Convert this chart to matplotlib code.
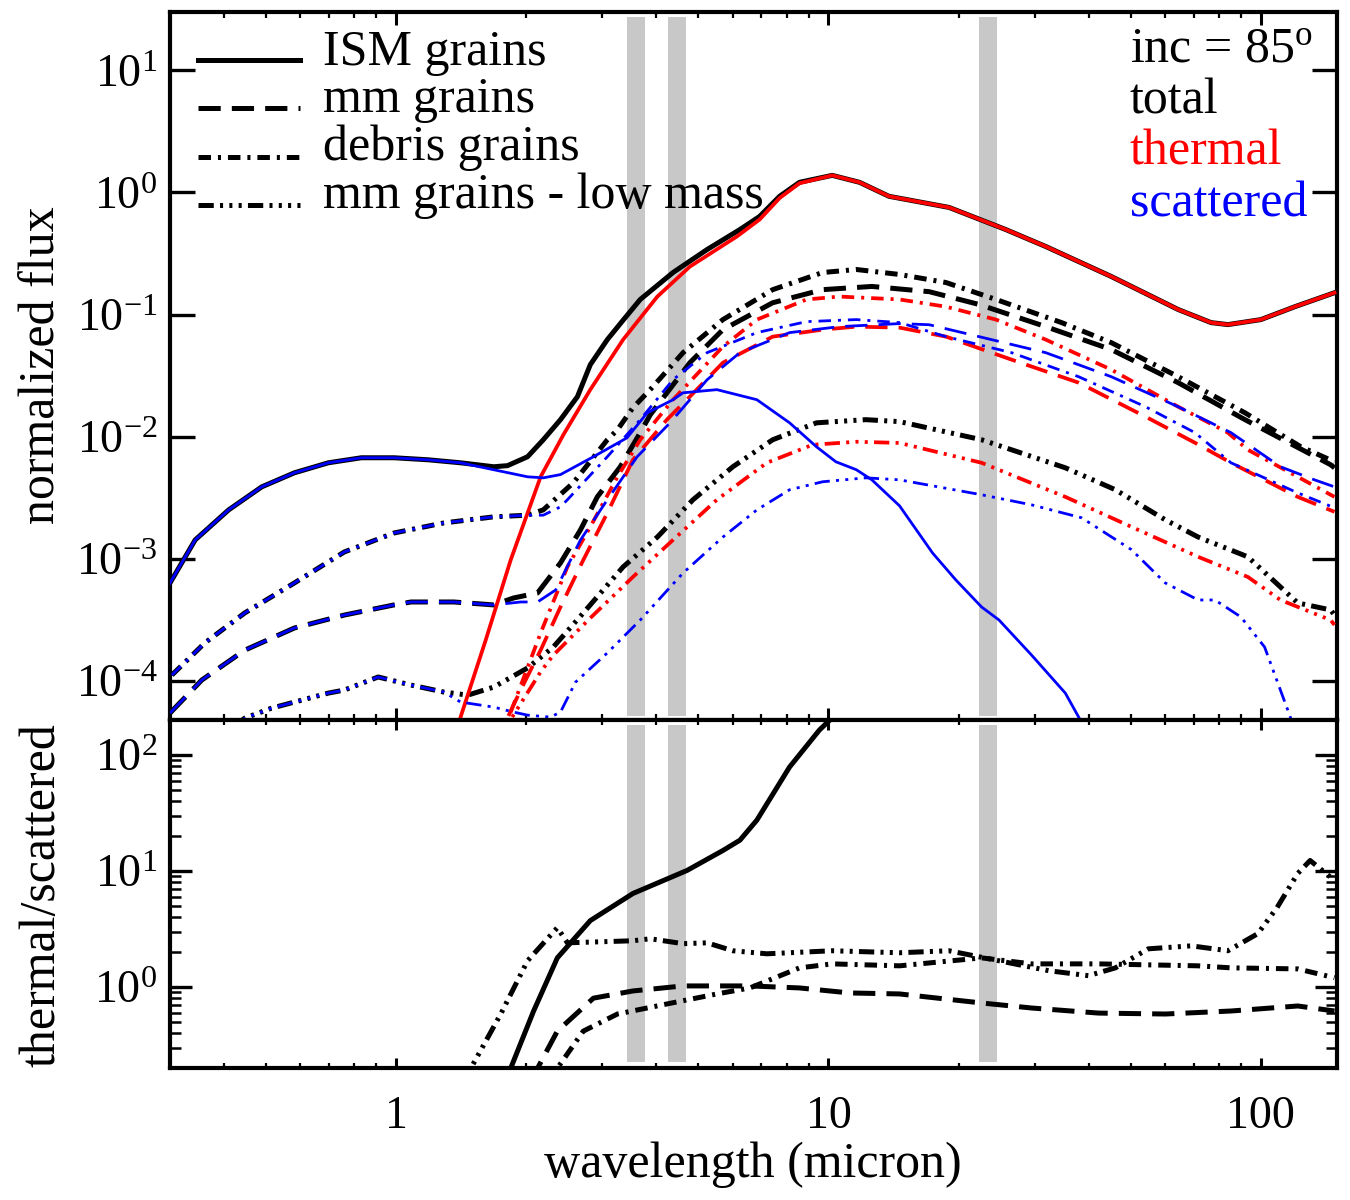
import matplotlib
matplotlib.use('Agg')
import matplotlib.pyplot as plt
from matplotlib.lines import Line2D
from matplotlib.ticker import LogLocator, NullLocator, NullFormatter, FixedLocator, FixedFormatter

plt.rcParams['font.family'] = ['Liberation Serif', 'DejaVu Serif']
plt.rcParams['mathtext.fontset'] = 'custom'
plt.rcParams['mathtext.rm'] = 'Liberation Serif'
plt.rcParams['mathtext.it'] = 'Liberation Serif:italic'
plt.rcParams['mathtext.bf'] = 'Liberation Serif:bold'
plt.rcParams['lines.scale_dashes'] = False
plt.rcParams['axes.unicode_minus'] = False

# ---------------- data (wavelength in micron) ----------------
# ISM grains
ism_tot_wl = [0.298, 0.343, 0.410, 0.489, 0.582, 0.697, 0.831, 0.989, 1.185, 1.41, 1.682, 1.81, 2.014, 2.19,
              2.40, 2.627, 2.813, 3.08, 3.35, 3.67, 4.37, 5.24, 6.24, 6.93, 7.71, 8.57, 10.2, 11.8, 13.8, 19.0,
              21.5, 25.7, 31.8, 45.1, 64.4, 76.7, 83.9, 100, 119.8, 148]
ism_tot = [6.1e-4, 1.43e-3, 2.52e-3, 3.89e-3, 5.07e-3, 6.12e-3, 6.73e-3, 6.73e-3, 6.48e-3, 6.12e-3, 5.68e-3,
           5.8e-3, 6.86e-3, 9.45e-3, 0.0138, 0.0213, 0.0389, 0.0624, 0.09, 0.133, 0.221, 0.341, 0.497, 0.636,
           0.93, 1.21, 1.38, 1.21, 0.93, 0.754, 0.636, 0.497, 0.361, 0.205, 0.11, 0.086, 0.0828, 0.091, 0.116,
           0.151]
ism_th_wl = [1.339, 1.612, 1.841, 2.159, 2.438, 2.813, 3.35, 4.02, 4.78, 6.14, 6.93, 7.71, 8.57, 10.2, 11.8,
             13.8, 19.0, 21.5, 25.7, 31.8, 45.1, 64.4, 76.7, 83.9, 100, 119.8, 148]
ism_th = [2.9e-5, 2.17e-4, 9.8e-4, 4.7e-3, 0.0104, 0.0243, 0.0624, 0.1405, 0.247, 0.436, 0.60, 0.90, 1.19,
          1.38, 1.21, 0.93, 0.754, 0.636, 0.497, 0.361, 0.205, 0.11, 0.086, 0.0828, 0.091, 0.116, 0.151]
ism_sc_wl = [0.298, 0.343, 0.410, 0.489, 0.582, 0.697, 0.831, 0.989, 1.185, 1.41, 1.682, 2.014, 2.19, 2.40,
             2.86, 3.42, 3.81, 4.37, 4.61, 5.52, 6.83, 8.13, 9.38, 10.4, 11.6, 12.6, 14.6, 17.4, 19.7, 22.6,
             24.8, 29.5, 35.3, 37.9, 39.9]
ism_sc = [6.1e-4, 1.43e-3, 2.52e-3, 3.89e-3, 5.07e-3, 6.12e-3, 6.73e-3, 6.73e-3, 6.48e-3, 6.12e-3, 5.37e-3,
          4.7e-3, 4.61e-3, 4.9e-3, 6.86e-3, 9.8e-3, 0.0157, 0.0201, 0.0229, 0.0243, 0.0201, 0.0130, 8.28e-3,
          6.24e-3, 5.37e-3, 4.44e-3, 2.72e-3, 1.12e-3, 6.73e-4, 4.04e-4, 3.16e-4, 1.63e-4, 7.97e-5, 5.07e-5, 3.6e-5]

# mm grains
mm_tot_wl = [0.300, 0.3554, 0.4466, 0.582, 0.759, 0.989, 1.083, 1.36, 1.682, 1.87, 2.124, 2.40, 2.67, 2.92,
             3.30, 3.67, 3.87, 4.78, 5.70, 7.43, 9.69, 12.6, 17.1, 22.3, 31.8, 45.1, 64.4, 91.9, 145, 148]
mm_tot = [5.47e-5, 1.02e-4, 1.79e-4, 2.72e-4, 3.47e-4, 4.2e-4, 4.44e-4, 4.44e-4, 4.2e-4, 4.79e-4, 5.26e-4,
          9.27e-4, 1.73e-3, 3.22e-3, 5.68e-3, 0.0108, 0.0151, 0.0404, 0.0753, 0.125, 0.160, 0.170, 0.154,
          0.121, 0.0797, 0.0517, 0.0277, 0.0138, 5.9e-3, 5.57e-3]
mm_th_wl = [1.70, 1.81, 1.941, 2.159, 2.40, 2.71, 3.08, 3.53, 4.23, 4.78, 5.70, 7.43, 9.69, 11.6, 14.6, 18.7,
            26.5, 37.9, 54.1, 70.4, 85.3, 121.7, 148]
mm_th = [2.9e-5, 5.0e-5, 8.44e-5, 1.79e-4, 4.04e-4, 9.8e-4, 2.38e-3, 6.48e-3, 0.0138, 0.0213, 0.0404, 0.0660,
         0.0753, 0.0797, 0.0782, 0.066, 0.0428, 0.0277, 0.0146, 8.93e-3, 6.12e-3, 3.22e-3, 2.43e-3]
mm_sc_wl = [0.300, 0.3554, 0.4466, 0.582, 0.759, 0.989, 1.083, 1.36, 1.682, 1.941, 2.124, 2.34, 2.67, 3.08,
            3.61, 4.30, 5.24, 6.24, 8.13, 10.6, 14.6, 17.1, 22.3, 31.8, 45.1, 64.4, 85.3, 111, 133, 148]
mm_sc = [5.47e-5, 1.02e-4, 1.79e-4, 2.72e-4, 3.47e-4, 4.2e-4, 4.44e-4, 4.44e-4, 4.2e-4, 4.44e-4, 4.44e-4,
         5.57e-4, 1.43e-3, 3.05e-3, 6.86e-3, 0.0130, 0.0293, 0.0488, 0.0712, 0.0797, 0.0844, 0.0826, 0.066,
         0.0488, 0.031, 0.0176, 0.0108, 5.68e-3, 4.44e-3, 3.89e-3]

# debris grains
deb_tot_wl = [0.303, 0.361, 0.4466, 0.582, 0.759, 0.989, 1.29, 1.682, 2.014, 2.19, 2.57, 3.08, 3.25, 3.53,
              3.87, 4.61, 5.70, 7.43, 9.69, 11.6, 14.6, 18.7, 24.4, 34.6, 45.1, 64.4, 91.9, 123.7, 148]
deb_tot = [1.12e-4, 2.05e-4, 3.61e-4, 6.36e-4, 1.14e-3, 1.63e-3, 1.97e-3, 2.21e-3, 2.28e-3, 2.52e-3, 4.2e-3,
           9.45e-3, 0.0114, 0.0173, 0.0243, 0.0488, 0.091, 0.160, 0.221, 0.234, 0.213, 0.183, 0.133, 0.086,
           0.0589, 0.031, 0.0157, 8.28e-3, 6.24e-3]
deb_th_wl = [1.746, 1.841, 2.159, 2.49, 2.813, 3.25, 3.67, 4.37, 5.70, 6.83, 8.90, 10.6, 14.6, 18.7, 24.4,
             31.8, 45.1, 64.4, 83.9, 93.3, 121.7, 148]
deb_th = [3.3e-5, 5.57e-5, 2.47e-4, 8.6e-4, 1.83e-3, 4.7e-3, 9.45e-3, 0.0201, 0.0547, 0.091, 0.133, 0.1405,
          0.133, 0.116, 0.091, 0.0624, 0.0354, 0.0176, 0.0108, 7.82e-3, 4.7e-3, 3.22e-3]
deb_sc_wl = [0.303, 0.361, 0.4466, 0.582, 0.759, 0.989, 1.29, 1.682, 2.014, 2.19, 2.40, 2.49, 3.08, 3.67,
             4.37, 5.24, 6.83, 8.90, 11.6, 14.6, 18.7, 26.5, 37.9, 54.1, 70.4, 85.3, 121.7, 148]
deb_sc = [1.12e-4, 2.05e-4, 3.61e-4, 6.36e-4, 1.14e-3, 1.63e-3, 1.97e-3, 2.21e-3, 2.28e-3, 2.28e-3, 2.67e-3,
          3.05e-3, 6.86e-3, 0.0138, 0.0293, 0.0488, 0.0712, 0.0876, 0.091, 0.086, 0.066, 0.0488, 0.031,
          0.0176, 0.0108, 6.12e-3, 3.47e-3, 2.62e-3]

# mm grains - low mass
low_tot_wl = [0.42, 0.4466, 0.515, 0.697, 0.759, 0.909, 1.083, 1.29, 1.465, 1.682, 2.014, 2.31, 2.71, 3.35,
              4.02, 4.86, 6.01, 7.43, 9.38, 12.2, 14.6, 22.6, 35.3, 46.1, 60.1, 71.6, 93.3, 111, 121.7, 145, 148]
low_tot = [4.2e-5, 4.97e-5, 6.0e-5, 7.97e-5, 8.44e-5, 1.08e-4, 9.27e-5, 8.13e-5, 7.67e-5, 8.93e-5, 1.28e-4,
           1.9e-4, 3.61e-4, 8.6e-4, 1.51e-3, 3.05e-3, 5.68e-3, 9.45e-3, 0.0130, 0.0138, 0.0133, 9.45e-3,
           5.57e-3, 3.68e-3, 2.09e-3, 1.51e-3, 1.04e-3, 5.89e-4, 4.36e-4, 3.82e-4, 3.47e-4]
low_th_wl = [1.746, 2.159, 2.31, 2.813, 3.53, 4.37, 5.52, 7.20, 9.19, 11.6, 14.6, 22.6, 35.3, 50.2, 71.6,
             93.3, 111, 145, 148]
low_th = [3.6e-5, 1.19e-4, 1.63e-4, 3.28e-4, 7.12e-4, 1.43e-3, 3.05e-3, 6.12e-3, 8.6e-3, 9.1e-3, 8.9e-3,
          6.12e-3, 3.22e-3, 1.83e-3, 1.04e-3, 7.12e-4, 4.61e-4, 3.16e-4, 2.88e-4]
low_sc_wl = [0.42, 0.4466, 0.515, 0.697, 0.759, 0.909, 1.083, 1.29, 1.41, 1.682, 1.87, 2.014, 2.276, 2.40,
             2.60, 3.08, 3.67, 4.61, 5.70, 6.83, 8.13, 9.69, 12.2, 14.6, 22.6, 29.5, 38.5, 50.2, 60.1, 71.6,
             78.3, 89.9, 102, 117, 120.5]
low_sc = [4.2e-5, 4.97e-5, 6.0e-5, 7.97e-5, 8.44e-5, 1.08e-4, 9.27e-5, 8.13e-5, 6.73e-5, 6.12e-5, 5.57e-5,
          5.26e-5, 5.07e-5, 5.57e-5, 9.8e-5, 1.70e-4, 3.16e-4, 7.67e-4, 1.51e-3, 2.52e-3, 3.68e-3, 4.28e-3,
          4.61e-3, 4.44e-3, 3.35e-3, 2.77e-3, 2.17e-3, 1.19e-3, 6.36e-4, 4.61e-4, 4.61e-4, 3.35e-4, 1.9e-4,
          5.07e-5, 3.3e-5]

# thermal / scattered ratios
ism_ratio_wl = [1.793, 1.841, 2.08, 2.36, 2.813, 3.53, 4.71, 5.70, 6.24, 6.83, 8.13, 9.53, 10.2, 10.9]
ism_ratio = [0.153, 0.199, 0.62, 1.78, 3.73, 6.39, 10.1, 15.0, 18.4, 27.4, 78.7, 164, 209, 271]
mm_ratio_wl = [2.05, 2.124, 2.36, 2.86, 3.53, 4.61, 6.58, 8.57, 11.2, 14.6, 22.6, 29.5, 42.1, 60.1, 85.3,
               121.7, 148]
mm_ratio = [0.153, 0.199, 0.416, 0.80, 0.923, 1.02, 1.02, 0.98, 0.887, 0.87, 0.727, 0.658, 0.595, 0.584,
            0.62, 0.685, 0.62]
deb_ratio_wl = [2.25, 2.36, 2.71, 3.25, 4.23, 5.52, 6.58, 8.57, 10.2, 14.6, 22.6, 29.5, 42.1, 71.6, 85.3,
                121.7, 148]
deb_ratio = [0.153, 0.199, 0.416, 0.584, 0.713, 0.87, 0.98, 1.46, 1.58, 1.52, 1.78, 1.58, 1.58, 1.52, 1.46,
             1.43, 1.2]
low_ratio_wl = [1.41, 1.489, 1.746, 2.014, 2.36, 2.49, 3.53, 3.87, 4.61, 5.24, 6.01, 7.20, 10.2, 14.6, 19.0,
                24.8, 32.3, 39.9, 46.1, 54.9, 69.0, 83.9, 98.4, 109, 121.7, 130, 148]
low_ratio = [0.153, 0.199, 0.584, 1.68, 3.24, 2.40, 2.50, 2.60, 2.36, 2.40, 2.05, 1.93, 2.05, 1.97, 2.05,
             1.68, 1.38, 1.25, 1.46, 2.13, 2.26, 2.05, 2.88, 4.83, 9.51, 12.3, 8.28]

# photometric bands (micron)
band_lo = [3.42, 4.26, 22.3]
band_hi = [3.77, 4.68, 24.5]

legend_labels = ['ISM grains', 'mm grains', 'debris grains', 'mm grains - low mass']
xtick_vals = [1, 10, 100]
xtick_labels = ['1', '10', '100']

# ---------------- styles ----------------
SOLID = '-'
DASH = (0, (16, 8))
DASHDOT = (0, (9, 5, 2.2, 5))
DDD = (0, (11, 4.5, 2.2, 4.5, 2.2, 4.5, 2.2, 4.5))
LW_K, LW_R, LW_B = 3.6, 2.7, 2.0
RED, BLUE, GREY = '#ff0000', '#0000ff', '#c8c8c8'
FS = 36
FS_TICK = 33

fig = plt.figure(figsize=(13.5, 12), dpi=100)
ax1 = fig.add_axes([170 / 1350, 480 / 1200, 1167 / 1350, 708 / 1200])
ax2 = fig.add_axes([170 / 1350, 132 / 1200, 1167 / 1350, 348 / 1200])

for ax, (y0, y1) in ((ax1, (0.006, 0.993)), (ax2, (0.017, 0.986))):
    for lo, hi in zip(band_lo, band_hi):
        ax.axvspan(lo, hi, ymin=y0, ymax=y1, color=GREY, lw=0, zorder=0)

# top panel
groups = [
    (ism_tot_wl, ism_tot, ism_th_wl, ism_th, ism_sc_wl, ism_sc, SOLID),
    (mm_tot_wl, mm_tot, mm_th_wl, mm_th, mm_sc_wl, mm_sc, DASH),
    (deb_tot_wl, deb_tot, deb_th_wl, deb_th, deb_sc_wl, deb_sc, DASHDOT),
    (low_tot_wl, low_tot, low_th_wl, low_th, low_sc_wl, low_sc, DDD),
]
for twl, tv, hwl, hv, swl, sv, ls in groups:
    ax1.plot(twl, tv, color='k', lw=LW_K, ls=ls, zorder=3)
for twl, tv, hwl, hv, swl, sv, ls in groups:
    ax1.plot(hwl, hv, color=RED, lw=LW_R, ls=ls, zorder=4)
for twl, tv, hwl, hv, swl, sv, ls in groups:
    ax1.plot(swl, sv, color=BLUE, lw=LW_B, ls=ls, zorder=5)

# bottom panel
ax2.plot(ism_ratio_wl, ism_ratio, color='k', lw=LW_K, ls=SOLID, zorder=3)
ax2.plot(mm_ratio_wl, mm_ratio, color='k', lw=LW_K, ls=DASH, zorder=3)
ax2.plot(deb_ratio_wl, deb_ratio, color='k', lw=LW_K, ls=DASHDOT, zorder=3)
ax2.plot(low_ratio_wl, low_ratio, color='k', lw=LW_K, ls=DDD, zorder=3)

for ax in (ax1, ax2):
    ax.set_xscale('log')
    ax.set_yscale('log')
    ax.set_xlim(0.3, 150)
    ax.xaxis.set_major_locator(FixedLocator(xtick_vals))
    ax.xaxis.set_minor_locator(LogLocator(base=10, subs=[2, 3, 4, 5, 6, 7, 8, 9], numticks=20))
    ax.xaxis.set_minor_formatter(NullFormatter())
    ax.tick_params(which='both', direction='in', top=True, right=True, labelsize=FS_TICK)
    for s in ax.spines.values():
        s.set_linewidth(3.0)

ax1.set_ylim(4.8e-5, 30)
ax1.set_yticks([1e-4, 1e-3, 1e-2, 1e-1, 1, 10])
ax1.yaxis.set_minor_locator(NullLocator())
ax1.tick_params(axis='x', which='major', length=9, width=2.2)
ax1.tick_params(axis='x', which='minor', length=4.5, width=1.6)
ax1.tick_params(axis='y', which='major', length=18, width=2.4, pad=9)
ax1.tick_params(axis='x', labelbottom=False)

ax2.set_ylim(0.2, 200)
ax2.set_yticks([1, 10, 100])
ax2.yaxis.set_minor_locator(LogLocator(base=10, subs=[2, 3, 4, 5, 6, 7, 8, 9], numticks=20))
ax2.yaxis.set_minor_formatter(NullFormatter())
ax2.tick_params(axis='x', which='major', length=7, width=2.2, pad=20)
ax2.tick_params(axis='x', which='minor', length=3.5, width=1.6)
ax2.tick_params(axis='y', which='major', length=16, width=2.4, pad=9)
ax2.tick_params(axis='y', which='minor', length=8, width=1.8)
ax2.xaxis.set_major_formatter(FixedFormatter(xtick_labels))

# legend (line styles)
leg_styles = [SOLID, DASH, DASHDOT, DDD]
line_y = [0.9322, 0.8644, 0.7952, 0.7274]
text_y = [0.9251, 0.8588, 0.7910, 0.7232]
for ls, ly, ty, lab in zip(leg_styles, line_y, text_y, legend_labels):
    ax1.add_line(Line2D([0.024, 0.1114], [ly, ly], transform=ax1.transAxes, color='k', lw=LW_K, ls=ls,
                        zorder=6))
    ax1.text(0.1311, ty, lab, transform=ax1.transAxes, fontsize=FS, va='baseline', ha='left', zorder=6)

# right-hand annotation
for ty, txt, col in zip([0.9294, 0.8573, 0.7839, 0.7105],
                        ['inc = 85$^{\\mathrm{o}}$', 'total', 'thermal', 'scattered'],
                        ['k', 'k', RED, BLUE]):
    ax1.text(0.8226, ty, txt, transform=ax1.transAxes, fontsize=FS, va='baseline', ha='left', color=col,
             zorder=6)

fig.text(42 / 1350, 1 - 365 / 1200, 'normalized flux', rotation=90, ha='center', va='center', fontsize=FS)
fig.text(42 / 1350, 1 - 895 / 1200, 'thermal/scattered', rotation=90, ha='center', va='center', fontsize=FS)
fig.text(753 / 1350, 1 - 1165 / 1200, 'wavelength (micron)', ha='center', va='center', fontsize=FS)

fig.savefig('out.png', dpi=100)
